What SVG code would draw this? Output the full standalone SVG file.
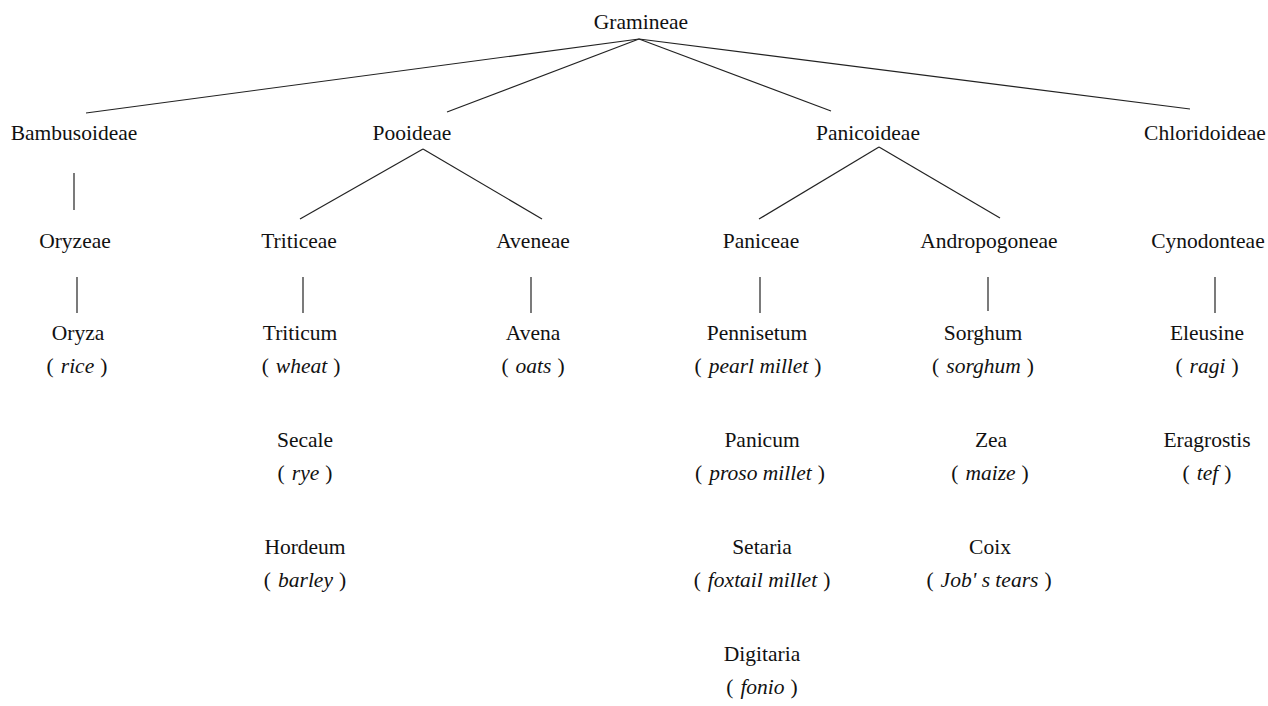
<svg xmlns="http://www.w3.org/2000/svg" width="1268" height="706" viewBox="0 0 1268 706">
<style>
text{font-family:"Liberation Serif","Times New Roman",serif;font-size:21.5px;fill:#111;text-anchor:middle}
.it{font-style:italic}
.c line{stroke:#222;stroke-width:1.2;fill:none}
</style>
<rect width="1268" height="706" fill="#fff"/>
<g id="connectors" class="c">
<line x1="639" y1="39" x2="86" y2="113"/>
<line x1="639" y1="39" x2="447" y2="112"/>
<line x1="639" y1="39" x2="831" y2="111"/>
<line x1="639" y1="39" x2="1190" y2="109"/>
<line x1="423" y1="149" x2="300" y2="219"/>
<line x1="423" y1="149" x2="542" y2="219"/>
<line x1="879" y1="147" x2="759" y2="219"/>
<line x1="879" y1="147" x2="1000" y2="218"/>
<line x1="74" y1="173" x2="74" y2="210"/>
<line x1="77" y1="277" x2="77" y2="313"/>
<line x1="303" y1="277" x2="303" y2="313"/>
<line x1="531" y1="277" x2="531" y2="313"/>
<line x1="760" y1="277" x2="760" y2="313"/>
<line x1="988" y1="277" x2="988" y2="311"/>
<line x1="1215" y1="277" x2="1215" y2="313"/>
</g>
<g id="gramineae"><text x="641" y="29">Gramineae</text></g>
<g id="bambusoideae"><text x="74" y="140">Bambusoideae</text></g>
<g id="pooideae"><text x="412" y="140">Pooideae</text></g>
<g id="panicoideae"><text x="868" y="140">Panicoideae</text></g>
<g id="chloridoideae"><text x="1205" y="140">Chloridoideae</text></g>
<g id="oryzeae"><text x="75" y="248">Oryzeae</text></g>
<g id="triticeae"><text x="299" y="248">Triticeae</text></g>
<g id="aveneae"><text x="533" y="248">Aveneae</text></g>
<g id="paniceae"><text x="761" y="248">Paniceae</text></g>
<g id="andropogoneae"><text x="989" y="248">Andropogoneae</text></g>
<g id="cynodonteae"><text x="1208" y="248">Cynodonteae</text></g>
<g id="oryza"><text x="78" y="340">Oryza</text><text x="77" y="373">(<tspan class="it" dx="7">rice</tspan><tspan dx="6">)</tspan></text></g>
<g id="triticum"><text x="300" y="340">Triticum</text><text x="301" y="373">(<tspan class="it" dx="7">wheat</tspan><tspan dx="6">)</tspan></text></g>
<g id="secale"><text x="305" y="447">Secale</text><text x="305" y="480">(<tspan class="it" dx="7">rye</tspan><tspan dx="6">)</tspan></text></g>
<g id="hordeum"><text x="305" y="554">Hordeum</text><text x="305" y="587">(<tspan class="it" dx="7">barley</tspan><tspan dx="6">)</tspan></text></g>
<g id="avena"><text x="533" y="340">Avena</text><text x="533" y="373">(<tspan class="it" dx="7">oats</tspan><tspan dx="6">)</tspan></text></g>
<g id="pennisetum"><text x="757" y="340">Pennisetum</text><text x="758" y="373">(<tspan class="it" dx="7">pearl millet</tspan><tspan dx="6">)</tspan></text></g>
<g id="panicum"><text x="762" y="447">Panicum</text><text x="760" y="480">(<tspan class="it" dx="7">proso millet</tspan><tspan dx="6">)</tspan></text></g>
<g id="setaria"><text x="762" y="554">Setaria</text><text x="762" y="587">(<tspan class="it" dx="7">foxtail millet</tspan><tspan dx="6">)</tspan></text></g>
<g id="digitaria"><text x="762" y="661">Digitaria</text><text x="762" y="694">(<tspan class="it" dx="7">fonio</tspan><tspan dx="6">)</tspan></text></g>
<g id="sorghum"><text x="983" y="340">Sorghum</text><text x="983" y="373">(<tspan class="it" dx="7">sorghum</tspan><tspan dx="6">)</tspan></text></g>
<g id="zea"><text x="991" y="447">Zea</text><text x="990" y="480">(<tspan class="it" dx="7">maize</tspan><tspan dx="6">)</tspan></text></g>
<g id="coix"><text x="990" y="554">Coix</text><text x="989" y="587">(<tspan class="it" dx="7">Job' s tears</tspan><tspan dx="6">)</tspan></text></g>
<g id="eleusine"><text x="1207" y="340">Eleusine</text><text x="1207" y="373">(<tspan class="it" dx="7">ragi</tspan><tspan dx="6">)</tspan></text></g>
<g id="eragrostis"><text x="1207" y="447">Eragrostis</text><text x="1207" y="480">(<tspan class="it" dx="7">tef</tspan><tspan dx="6">)</tspan></text></g>
</svg>
